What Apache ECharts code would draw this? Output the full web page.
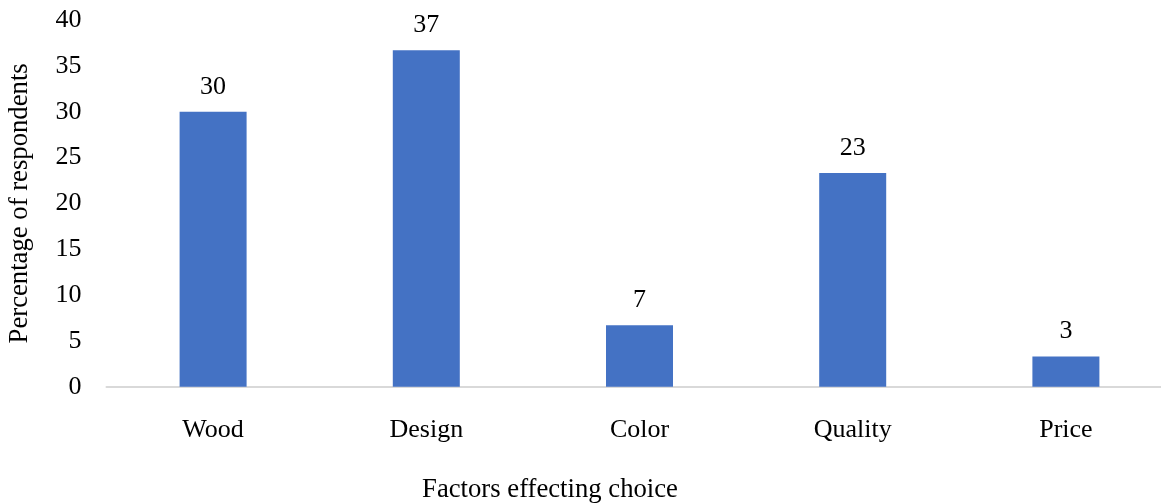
<!DOCTYPE html>
<html>
<head>
<meta charset="utf-8">
<script src="https://cdn.jsdelivr.net/npm/echarts@6/dist/echarts.min.js"></script>
<style>
  html, body { margin: 0; padding: 0; background: #fff; }
  #chart { width: 1161px; height: 503px; }
</style>
</head>
<body>
<div id="chart"></div>
<script>
// Survey: factors effecting choice, percentage of respondents
const categories = ['Wood', 'Design', 'Color', 'Quality', 'Price'];
const percentages = [30, 36.7, 6.7, 23.3, 3.3];
const xAxisTitle = 'Factors effecting choice';
const yAxisTitle = 'Percentage of respondents';

const font = '"Liberation Serif", "Times New Roman", serif';
const chart = echarts.init(document.getElementById('chart'));

chart.setOption({
  backgroundColor: '#ffffff',
  animation: false,
  grid: { left: 106.5, right: -11.5, top: 20, bottom: 116.3, outerBoundsMode: 'none', containLabel: false },
  xAxis: {
    type: 'category',
    data: categories,
    name: xAxisTitle,
    nameLocation: 'middle',
    nameGap: 90,
    // title sits left of the plot centre, as in the chart area layout
    nameTextStyle: { fontFamily: font, fontSize: 26.7, color: '#000', padding: [0, 179, 0, 0] },
    axisLine: { show: true, lineStyle: { color: '#d9d9d9', width: 2 } },
    axisTick: { show: false },
    axisLabel: { fontFamily: font, fontSize: 26, color: '#000', margin: 30 }
  },
  yAxis: {
    type: 'value',
    min: 0,
    max: 40,
    interval: 5,
    name: yAxisTitle,
    nameLocation: 'middle',
    nameGap: 73,
    nameTextStyle: { fontFamily: font, fontSize: 26.7, color: '#000' },
    axisLine: { show: false },
    axisTick: { show: false },
    splitLine: { show: false },
    axisLabel: { fontFamily: font, fontSize: 26, color: '#000', margin: 25 }
  },
  series: [{
    type: 'bar',
    data: percentages,
    barWidth: 67,
    itemStyle: { color: '#4472c4' },
    label: {
      show: true,
      position: 'top',
      distance: 12,
      fontFamily: font,
      fontSize: 26,
      color: '#000',
      formatter: p => Math.round(p.value)
    }
  }]
});
</script>
</body>
</html>
